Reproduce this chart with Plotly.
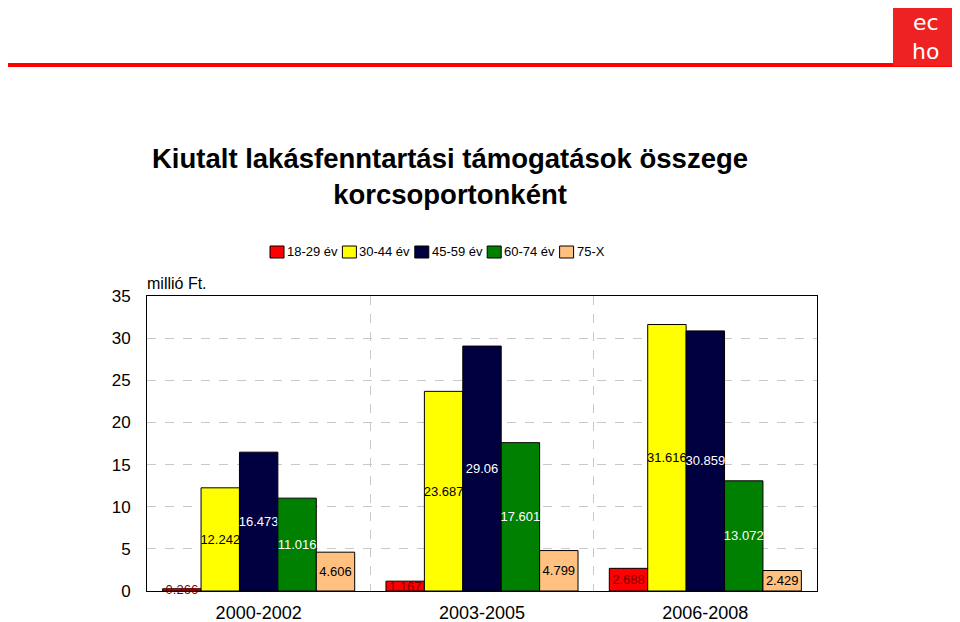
import plotly.graph_objects as go

categories = ["2000-2002", "2003-2005", "2006-2008"]
series_names = ["18-29 év", "30-44 év", "45-59 év", "60-74 év", "75-X"]
v_18_29 = [0.266, 1.167, 2.688]
v_30_44 = [12.242, 23.687, 31.616]
v_45_59 = [16.473, 29.06, 30.859]
v_60_74 = [11.016, 17.601, 13.072]
v_75_x = [4.606, 4.799, 2.429]
label_18_29 = ["0.266", "1.167", "2.688"]
label_30_44 = ["12.242", "23.687", "31.616"]
label_45_59 = ["16.473", "29.06", "30.859"]
label_60_74 = ["11.016", "17.601", "13.072"]
label_75_x = ["4.606", "4.799", "2.429"]
y_ticks = [0, 5, 10, 15, 20, 25, 30, 35]

values = [v_18_29, v_30_44, v_45_59, v_60_74, v_75_x]
labels = [label_18_29, label_30_44, label_45_59, label_60_74, label_75_x]
colors = ["#FF0000", "#FFFF00", "#000040", "#008000", "#FFC080"]
text_colors = ["#7a0000", "#000000", "#FFFFFF", "#FFFFFF", "#000000"]

FONT = "Liberation Sans Narrow, Arial Narrow, Liberation Sans, Arial, sans-serif"

# page body adds an 8px offset; work in reference pixel coordinates
OFF = 8
L, R, T, B = 147, 817, 296, 591          # plot box in reference pixels
PW, PH = R - L, B - T


def px(x):
    return (x - L) / PW


def py(y):
    return (B - y) / PH


fig = go.Figure()
for name, vals, labs, col, tcol in zip(series_names, values, labels, colors, text_colors):
    fig.add_trace(go.Bar(
        name=name, x=categories, y=vals, text=labs,
        textposition="inside", insidetextanchor="middle", textangle=0,
        constraintext="none", cliponaxis=False,
        textfont=dict(color=tcol, size=13, family=FONT),
        marker=dict(color=col, line=dict(color="#000000", width=1)),
        showlegend=False,
    ))

fig.update_layout(
    width=960 - OFF, height=622 - OFF,
    margin=dict(l=L - OFF, r=960 - R, t=T - OFF, b=622 - B, autoexpand=False),
    paper_bgcolor="white", plot_bgcolor="white",
    barmode="group", bargap=0.14, bargroupgap=0,
    font=dict(family=FONT, color="#000000"),
    uniformtext=dict(mode="show", minsize=13),
    showlegend=False,
)
fig.update_xaxes(
    type="category", tickson="boundaries", automargin=False,
    showgrid=True, gridcolor="#c8c8c8", griddash="dash", gridwidth=1,
    showline=True, linecolor="#000000", linewidth=1, mirror=True,
    ticks="", ticklabelstandoff=5, tickfont=dict(size=18, family=FONT),
)
fig.update_yaxes(
    range=[0, 35], tickvals=y_ticks, automargin=False,
    showgrid=True, gridcolor="#c8c8c8", griddash="dash", gridwidth=1,
    showline=True, linecolor="#000000", linewidth=1, mirror=True,
    zeroline=False, ticks="", ticklabelstandoff=12,
    tickfont=dict(size=17, family=FONT),
)

# legend (swatch + label), laid out left to right
lx = 270
ly = 252
for name, col in zip(series_names, colors):
    fig.add_shape(type="rect", xref="paper", yref="paper",
                  x0=px(lx), x1=px(lx + 14), y0=py(ly - 6), y1=py(ly + 6),
                  fillcolor=col, line=dict(color="#000000", width=1))
    fig.add_annotation(text=name, xref="paper", yref="paper",
                       x=px(lx + 15), y=py(ly), xanchor="left", yanchor="middle",
                       showarrow=False, font=dict(size=13, family=FONT, color="#000000"))
    lx += 15 + len(name) * 6.3 + 7

# title
fig.add_annotation(
    text="<b>Kiutalt lakásfenntartási támogatások összege<br>korcsoportonként</b>",
    xref="paper", yref="paper", x=px(450), y=py(176),
    xanchor="center", yanchor="middle", showarrow=False, align="center",
    font=dict(size=27.5, family=FONT, color="#000000"),
)
# unit label
fig.add_annotation(
    text="millió Ft.", xref="paper", yref="paper", x=px(145), y=py(283),
    xanchor="left", yanchor="middle", showarrow=False,
    font=dict(size=16, family=FONT, color="#000000"),
)

# header: red rule and logo block
fig.add_shape(type="rect", xref="paper", yref="paper",
              x0=px(0), x1=px(958), y0=py(63), y1=py(67),
              fillcolor="#FF0000", line=dict(width=0), layer="above")
fig.add_shape(type="rect", xref="paper", yref="paper",
              x0=px(893), x1=px(958), y0=py(0), y1=py(66),
              fillcolor="#EE2222", line=dict(width=0), layer="above")
fig.add_annotation(
    text="ec<br>ho", xref="paper", yref="paper",
    x=px(925), y=py(37),
    xanchor="center", yanchor="middle", showarrow=False, align="center",
    font=dict(size=22, family="DejaVu Sans", color="#FFFFFF"),
)

fig.write_html("out.html")
